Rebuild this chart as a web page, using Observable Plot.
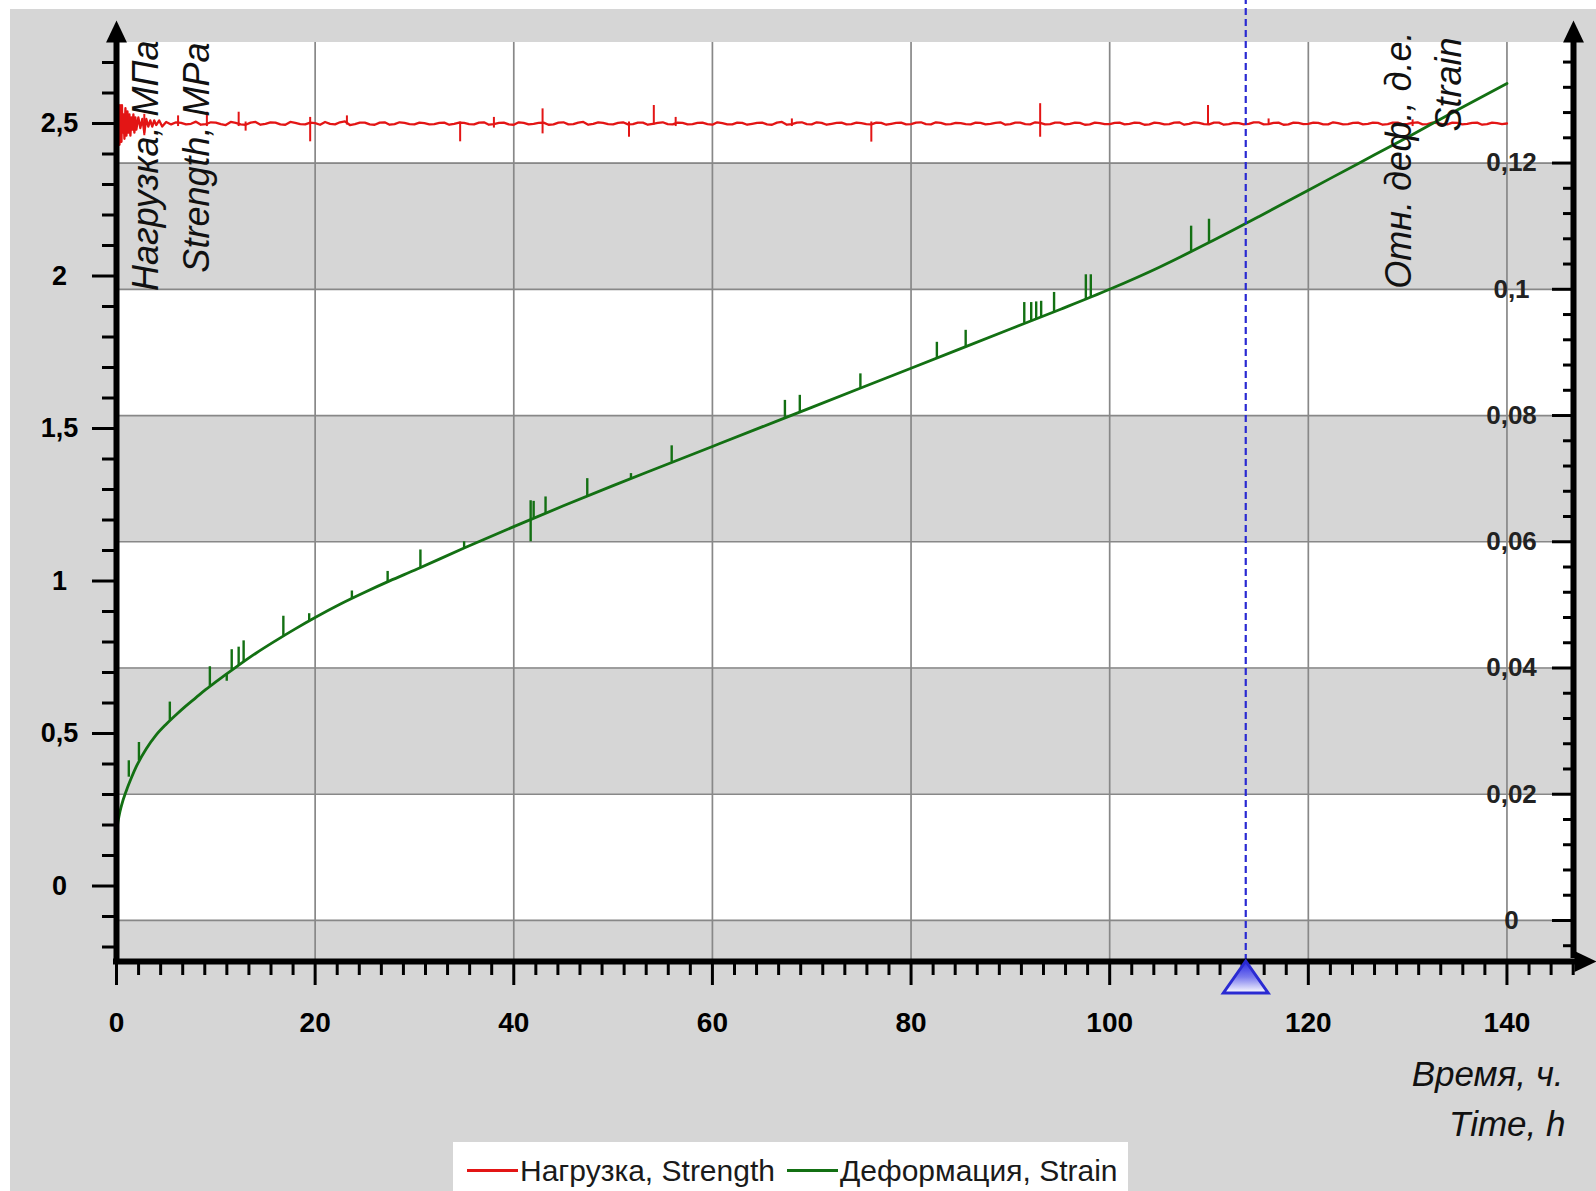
<!DOCTYPE html>
<html>
<head>
<meta charset="utf-8">
<script src="https://cdn.jsdelivr.net/npm/d3@7"></script>
<script src="https://cdn.jsdelivr.net/npm/@observablehq/plot@0.6"></script>
<style>
  html, body { margin: 0; padding: 0; background: #ffffff; }
  body { width: 1596px; height: 1191px; position: relative; overflow: hidden;
         font-family: "Liberation Sans", Arial, sans-serif; }
  #bg { position: absolute; left: 10px; top: 9px; right: 0; bottom: 0; background: #d6d6d6; }
  #wrap { position: absolute; left: 0; top: 0; width: 1596px; }
  #chart svg { display: block; }
  #legend { height: 49px; width: 1596px; position: relative; }
  #legend .box { position: absolute; left: 453px; top: 0; width: 675px; height: 49px; background: #ffffff;
                 display: flex; align-items: center; padding-left: 14px; box-sizing: border-box;
                 font-size: 30px; color: #1a1a1a; padding-top: 8px; white-space: nowrap; }
  #legend .sw { display: inline-block; width: 51px; height: 3px; margin-right: 2px; }
</style>
</head>
<body>
<div id="bg"></div>
<div id="wrap">
  <div id="chart"></div>
  <div id="legend">
    <div class="box">
      <span class="sw" style="background:#e31515"></span><span id="lg1"></span>
      <span class="sw" style="background:#137013;margin-left:12px"></span><span id="lg2"></span>
    </div>
  </div>
</div>
<script>
// ---------- data ----------
const seriesNames = ["Нагрузка, Strength", "Деформация, Strain"];
const leftTitle = ["Нагрузка, МПа", "Strength, MPa"];
const rightTitle = ["Отн. деф., д.е.", "Strain"];
const xTitle = ["Время, ч.", "Time, h"];

const timeTicks = [0, 20, 40, 60, 80, 100, 120, 140];
const timeLabels = ["0", "20", "40", "60", "80", "100", "120", "140"];
const loadTicks = [0, 0.5, 1, 1.5, 2, 2.5];
const loadLabels = ["0", "0,5", "1", "1,5", "2", "2,5"];
const strainTicks = [0, 0.02, 0.04, 0.06, 0.08, 0.1, 0.12];
const strainLabels = ["0", "0,02", "0,04", "0,06", "0,08", "0,1", "0,12"];

const xDomain = [0, 146.7];             // time, h
const yDomain = [-0.2475, 2.7656];      // load, MPa (left axis)
const strainDomain = [-0.0065, 0.1391]; // strain (right axis)
const cursorTime = 113.7;

// Load (red) – dense early part [t, MPa]
const loadEarly = [
  [0,2.50],[0.05,2.57],[0.1,2.44],[0.15,2.56],[0.2,2.45],[0.25,2.55],[0.3,2.43],[0.35,2.56],
  [0.4,2.46],[0.45,2.54],[0.5,2.44],[0.55,2.56],[0.6,2.47],[0.7,2.53],[0.8,2.45],[0.9,2.55],
  [1.0,2.46],[1.1,2.54],[1.2,2.47],[1.3,2.53],[1.4,2.46],[1.5,2.52],[1.6,2.48],[1.7,2.53],
  [1.8,2.47],[1.9,2.52],[2.0,2.48],[2.2,2.52],[2.4,2.485],[2.6,2.515],[2.8,2.47],[3.0,2.515],
  [3.2,2.49],[3.4,2.51],[3.6,2.49],[3.8,2.51],[4.0,2.495],[4.3,2.51],[4.6,2.49]
];
// Load (red) – values on the hour, t = 5 … 140 h
const loadHourly = [
  2.505,2.504,2.497,2.506,2.498,2.503,2.495,2.502,2.496,2.505,
  2.499,2.503,2.496,2.502,2.497,2.501,2.505,2.497,2.507,2.498,
  2.503,2.496,2.504,2.498,2.502,2.497,2.501,2.498,2.503,2.499,
  2.502,2.497,2.504,2.498,2.503,2.496,2.502,2.499,2.503,2.497,
  2.504,2.498,2.505,2.499,2.502,2.497,2.504,2.498,2.503,2.499,
  2.504,2.497,2.502,2.498,2.503,2.496,2.501,2.497,2.502,2.499,
  2.503,2.496,2.505,2.498,2.504,2.497,2.502,2.499,2.503,2.498,
  2.501,2.497,2.502,2.499,2.503,2.498,2.504,2.497,2.502,2.498,
  2.501,2.497,2.502,2.499,2.504,2.498,2.503,2.497,2.502,2.498,
  2.503,2.499,2.502,2.497,2.501,2.498,2.503,2.499,2.502,2.497,
  2.501,2.498,2.504,2.499,2.502,2.497,2.503,2.498,2.501,2.499,
  2.504,2.498,2.503,2.497,2.502,2.499,2.502,2.497,2.501,2.498,
  2.503,2.499,2.502,2.498,2.503,2.499,2.504,2.498,2.501,2.497,
  2.502,2.499,2.503,2.498,2.501,2.500
];
// Load (red) – values on the half hour, t = 5.5 … 139.5 h
const loadHalfHourly = [
  2.497,2.502,2.499,2.496,2.504,2.498,2.505,2.497,2.503,2.496,
  2.504,2.497,2.505,2.498,2.503,2.496,2.499,2.504,2.495,2.503,
  2.497,2.503,2.496,2.504,2.498,2.503,2.497,2.502,2.496,2.503,
  2.498,2.503,2.496,2.502,2.497,2.504,2.497,2.502,2.496,2.503,
  2.497,2.503,2.496,2.504,2.498,2.502,2.497,2.503,2.496,2.502,
  2.498,2.503,2.497,2.502,2.498,2.504,2.497,2.503,2.496,2.502,
  2.497,2.503,2.496,2.503,2.498,2.504,2.496,2.502,2.497,2.503,
  2.498,2.503,2.496,2.502,2.497,2.503,2.498,2.504,2.497,2.502,
  2.498,2.503,2.497,2.502,2.496,2.503,2.498,2.504,2.497,2.503,
  2.497,2.503,2.496,2.503,2.498,2.502,2.497,2.503,2.496,2.503,
  2.497,2.503,2.496,2.504,2.498,2.503,2.496,2.502,2.497,2.504,
  2.497,2.502,2.496,2.503,2.498,2.503,2.497,2.504,2.497,2.502,
  2.497,2.503,2.496,2.503,2.497,2.502,2.497,2.503,2.498,2.503,
  2.497,2.502,2.496,2.503,2.498
];
// Load spikes [t, low, high]
const loadSpikes = [
  [2.8,2.46,2.53],[6.2,2.49,2.525],[9.1,2.49,2.537],[12.3,2.49,2.537],[13.0,2.475,2.505],
  [19.5,2.44,2.52],[23.2,2.495,2.525],[34.6,2.44,2.505],[38.0,2.485,2.52],[42.9,2.466,2.548],
  [51.6,2.455,2.505],[54.1,2.495,2.559],[56.3,2.49,2.52],[68.0,2.49,2.515],[76.0,2.439,2.505],
  [93.0,2.455,2.565],[109.9,2.495,2.559],[116.0,2.495,2.515],[130.5,2.49,2.512]
];

// Strain (green) [t, strain]
const strainCurve = [
  [0,0.0125],[0.1,0.0150],[0.25,0.0165],[0.5,0.0182],[1,0.0206],[1.5,0.0226],[2,0.0244],
  [3,0.0272],[4,0.0294],[5,0.0311],[6,0.0326],[7,0.0340],[8,0.0353],[9,0.0366],[10,0.0378],
  [12,0.0401],[14,0.0423],[16,0.0443],[18,0.0462],[20,0.0480],[22.5,0.0501],[25,0.0520],
  [27.5,0.0538],[30,0.0555],[35,0.0590],[40,0.0624],[45,0.0657],[50,0.0689],[55,0.0720],
  [60,0.0751],[65,0.0782],[70,0.0813],[75,0.0844],[80,0.0875],[85,0.0906],[90,0.0937],
  [95,0.0968],[100,0.1000],[105,0.1035],[110,0.1074],[115,0.1115],[120,0.1157],[125,0.1199],
  [130,0.1241],[135,0.1284],[140,0.1326]
];
// Strain spikes [t, from, to]
const strainSpikes = [
  [1.24,0.0227,0.0253],[2.26,0.0253,0.0282],[5.37,0.0317,0.0346],[9.4,0.0371,0.0402],
  [11.1,0.0379,0.0391],[11.6,0.0397,0.0429],[12.3,0.0404,0.0433],[12.8,0.0410,0.0443],
  [16.8,0.0451,0.0482],[19.4,0.0475,0.0486],[23.7,0.0510,0.0522],[27.3,0.0537,0.0553],
  [30.6,0.0559,0.0587],[35.0,0.0590,0.0600],[41.7,0.0600,0.0665],[42.0,0.0638,0.0664],
  [43.2,0.0645,0.0671],[47.4,0.0672,0.0700],[51.8,0.0700,0.0708],[55.9,0.0726,0.0752],
  [67.3,0.0797,0.0824],[68.8,0.0806,0.0832],[74.9,0.0843,0.0866],[82.6,0.0891,0.0916],
  [85.5,0.0909,0.0935],[91.4,0.0946,0.0979],[92.1,0.0950,0.0979],[92.6,0.0953,0.0980],
  [93.1,0.0956,0.0981],[94.4,0.0964,0.0995],[97.6,0.0984,0.1023],[98.1,0.0987,0.1023],
  [108.2,0.1060,0.1100],[110.0,0.1074,0.1111]
];

// ---------- layout ----------
const W = 1596, H = 1142, mL = 116, mR = 23, mT = 42, mB = 181;
const RED = "#e31515", GREEN = "#137013", GRID = "#888888", GRAY = "#d6d6d6";
const s2v = d3.scaleLinear(strainDomain, yDomain); // right axis mapped onto left scale
const pxY = (yDomain[1] - yDomain[0]) / (H - mT - mB);
const pxX = (xDomain[1] - xDomain[0]) / (W - mL - mR);

const loadData = loadEarly
  .concat(loadHourly.map((v, i) => [5 + i, v]))
  .concat(loadHalfHourly.map((v, i) => [5.5 + i, v]))
  .sort((a, b) => a[0] - b[0]);

const isMult = (v, step) => Math.abs(v / step - Math.round(v / step)) < 1e-6;
const timeMinor = d3.range(0, 67).map(i => i * 20 / 9).filter(t => !isMult(t, 20) && t <= xDomain[1] + 0.01);
const loadMinor = d3.range(-2, 28).filter(i => i % 5 !== 0).map(i => i / 10);
const strainMinor = d3.range(-1, 35).filter(i => i % 5 !== 0).map(i => i * 0.004);

const bandEdges = [strainDomain[0], ...strainTicks, strainDomain[1]];
const bands = bandEdges.slice(0, -1).map((a, i) => [a, bandEdges[i + 1], i % 2 ? "white" : "gray"]);

const symUp = {draw(c, size) { const r = Math.sqrt(size / Math.PI); c.moveTo(0, -r); c.lineTo(0.95 * r, r); c.lineTo(-0.95 * r, r); c.closePath(); }};
const symRight = {draw(c, size) { const r = Math.sqrt(size / Math.PI); c.moveTo(r, 0); c.lineTo(-r, 0.95 * r); c.lineTo(-r, -0.95 * r); c.closePath(); }};
const symCursor = {draw(c, size) { const r = Math.sqrt(size / Math.PI); c.moveTo(0, -r); c.lineTo(1.4 * r, r); c.lineTo(-1.4 * r, r); c.closePath(); }};

const yArrow = yDomain[1] + 11 * pxY;

const svg = Plot.plot({
  width: W, height: H,
  marginLeft: mL, marginRight: mR, marginTop: mT, marginBottom: mB,
  x: {domain: xDomain, axis: null},
  y: {domain: yDomain, axis: null},
  style: {background: "transparent", color: "#000", fontFamily: "'Liberation Sans', Arial, sans-serif", fontSize: "26px", overflow: "visible"},
  marks: [
    // alternating bands aligned on the strain grid
    Plot.rect(bands.filter(b => b[2] === "white"), {y1: d => s2v(d[0]), y2: d => s2v(d[1]), fill: "#ffffff"}),
    Plot.rect(bands.filter(b => b[2] === "gray"), {y1: d => s2v(d[0]), y2: d => s2v(d[1]), fill: GRAY}),
    // grid
    Plot.ruleX(timeTicks.filter(t => t > 0), {stroke: GRID, strokeWidth: 1.7}),
    Plot.ruleY(strainTicks, {y: d => s2v(d), stroke: GRID, strokeWidth: 1.7}),
    // load (red)
    Plot.line(loadData, {x: d => d[0], y: d => d[1], stroke: RED, strokeWidth: 2.3}),
    Plot.ruleX(loadSpikes, {x: d => d[0], y1: d => d[1], y2: d => d[2], stroke: RED, strokeWidth: 2}),
    // strain (green)
    Plot.line(strainCurve, {x: d => d[0], y: d => s2v(d[1]), stroke: GREEN, strokeWidth: 2.8, curve: "monotone-x"}),
    Plot.ruleX(strainSpikes, {x: d => d[0], y1: d => s2v(d[1]), y2: d => s2v(d[2]), stroke: GREEN, strokeWidth: 2.4}),
    // cursor
    Plot.ruleX([cursorTime], {x: d => d, y1: () => yDomain[0], y2: () => yDomain[1] + mT * pxY, stroke: "#2a2ad2", strokeWidth: 2.2, strokeDasharray: "7,4"}),
    // axis lines
    Plot.ruleX([xDomain[0]], {x: d => d, y1: () => yDomain[0] - 3 * pxY, y2: () => yDomain[1] + 1 * pxY, stroke: "#000", strokeWidth: 6}),
    Plot.ruleX([xDomain[1]], {x: d => d, y1: () => yDomain[0] + 3 * pxY, y2: () => yDomain[1] + 1 * pxY, stroke: "#000", strokeWidth: 6}),
    Plot.ruleY([yDomain[0]], {y: d => d, x1: () => xDomain[0] - 3 * pxX, x2: () => xDomain[1] + 2 * pxX, stroke: "#000", strokeWidth: 6}),
    Plot.dot([xDomain[0], xDomain[1]], {x: d => d, y: () => yArrow, r: 11, symbol: symUp, fill: "#000", stroke: "none"}),
    Plot.dot([xDomain[1] + 12 * pxX], {x: d => d, y: () => yDomain[0], r: 11, symbol: symRight, fill: "#000", stroke: "none"}),
    // left axis (load)
    Plot.axisY({ticks: loadTicks, anchor: "left", tickSize: 24, tickPadding: 33, strokeWidth: 3,
      textAnchor: "middle", tickFormat: (d, i) => loadLabels[i], fontSize: 27, fontWeight: "bold"}),
    Plot.axisY({ticks: loadMinor, anchor: "left", tickSize: 14, strokeWidth: 3, tickFormat: () => ""}),
    // right axis (strain) – ticks pointing inward
    Plot.axisY({ticks: strainTicks.map(s => s2v(s)), anchor: "left", dx: W - mL - mR, tickSize: 21, tickPadding: 41, strokeWidth: 3,
      textAnchor: "middle", tickFormat: (d, i) => strainLabels[i], fontSize: 26, fontWeight: "bold", fill: "#222"}),
    Plot.axisY({ticks: strainMinor.map(s => s2v(s)), anchor: "left", dx: W - mL - mR, tickSize: 10, strokeWidth: 3, tickFormat: () => ""}),
    // bottom axis (time)
    Plot.axisX({ticks: timeTicks, anchor: "bottom", tickSize: 24, tickPadding: 27, strokeWidth: 3,
      tickFormat: (d, i) => timeLabels[i], fontSize: 28, fontWeight: "bold"}),
    Plot.axisX({ticks: timeMinor, anchor: "bottom", tickSize: 14, strokeWidth: 3, tickFormat: () => ""}),
    // cursor marker
    Plot.dot([cursorTime], {x: d => d, y: () => yDomain[0] - 15.5 * pxY, r: 16, symbol: symCursor, fill: "url(#triGrad)", stroke: "#2a2ad2", strokeWidth: 3}),
    // axis titles
    Plot.text([leftTitle[0]], {text: d => d, frameAnchor: "top-left", rotate: -90, textAnchor: "end", lineAnchor: "bottom", dx: 41, dy: -2, fontSize: 36, fontStyle: "italic", fill: "#111"}),
    Plot.text([leftTitle[1]], {text: d => d, frameAnchor: "top-left", rotate: -90, textAnchor: "end", lineAnchor: "bottom", dx: 92, dy: 0, fontSize: 36, fontStyle: "italic", fill: "#111"}),
    Plot.text([rightTitle[0]], {text: d => d, frameAnchor: "top-right", rotate: -90, textAnchor: "end", lineAnchor: "bottom", dx: -163, dy: -11, fontSize: 36, fontStyle: "italic", fill: "#111"}),
    Plot.text([rightTitle[1]], {text: d => d, frameAnchor: "top-right", rotate: -90, textAnchor: "end", lineAnchor: "bottom", dx: -113, dy: -5, fontSize: 36, fontStyle: "italic", fill: "#111"}),
    Plot.text([xTitle[0]], {text: d => d, frameAnchor: "bottom-right", textAnchor: "end", lineAnchor: "bottom", dx: -10, dy: 124, fontSize: 35, fontStyle: "italic", fill: "#111"}),
    Plot.text([xTitle[1]], {text: d => d, frameAnchor: "bottom-right", textAnchor: "end", lineAnchor: "bottom", dx: -8, dy: 174, fontSize: 35, fontStyle: "italic", fill: "#111"})
  ]
});

d3.select(svg).insert("defs", ":first-child").html(
  '<linearGradient id="triGrad" x1="0" y1="0" x2="0" y2="1">' +
  '<stop offset="0" stop-color="#2626e4"/><stop offset="0.5" stop-color="#7a7aee"/><stop offset="1" stop-color="#ffffff"/>' +
  '</linearGradient>');
document.getElementById("chart").appendChild(svg);
document.getElementById("lg1").textContent = seriesNames[0];
document.getElementById("lg2").textContent = seriesNames[1];
</script>
</body>
</html>
